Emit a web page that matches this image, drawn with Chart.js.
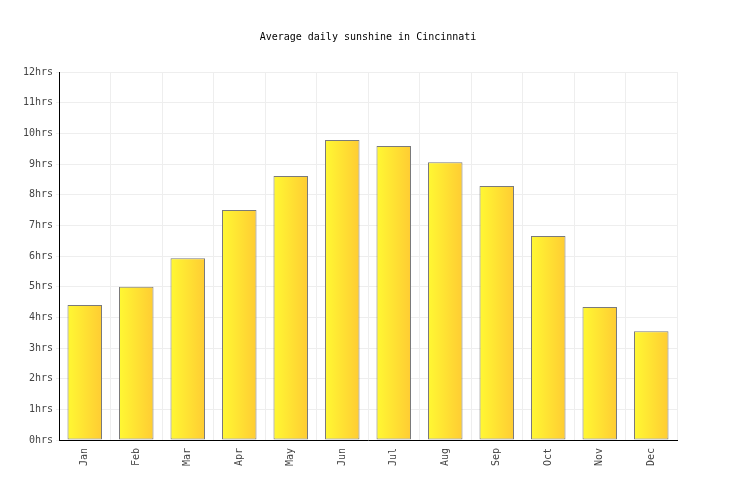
<!DOCTYPE html>
<html>
<head>
<meta charset="utf-8">
<script src="https://cdn.jsdelivr.net/npm/chart.js@4"></script>
<style>
  html, body { margin: 0; padding: 0; background: #fff; }
  #wrap { width: 736px; height: 500px; }
</style>
</head>
<body>
<div id="wrap"><canvas id="barChart"></canvas></div>
<script>
const months = ["Jan", "Feb", "Mar", "Apr", "May", "Jun", "Jul", "Aug", "Sep", "Oct", "Nov", "Dec"];
const sunshine = [4.4, 5.0, 5.93, 7.5, 8.61, 9.78, 9.59, 9.06, 8.28, 6.65, 4.34, 3.55]; // horas por día
const yTicks = [0, 1, 2, 3, 4, 5, 6, 7, 8, 9, 10, 11, 12];

const font = { family: "'DejaVu Sans Mono', monospace", size: 10 };
const BAR_PCT = 0.67;

// degradado horizontal de cada barra
function barGradient(context) {
  const chart = context.chart;
  const xs = chart.scales && chart.scales.x;
  if (!chart.chartArea || !xs || context.dataIndex === undefined) return "#ffe033";
  const cx = xs.getPixelForValue(context.dataIndex);
  const half = (xs.width / months.length) * BAR_PCT / 2;
  if (!Number.isFinite(cx) || !Number.isFinite(half)) return "#ffe033";
  const g = chart.ctx.createLinearGradient(cx - half, 0, cx + half, 0);
  g.addColorStop(0, "#fff833");
  g.addColorStop(1, "#ffcc33");
  return g;
}

const ctx = document.getElementById('barChart').getContext('2d');

new Chart(ctx, {
  type: 'bar',
  data: {
    labels: months,
    datasets: [{
      label: "Sunshine",
      data: sunshine,
      backgroundColor: barGradient,
      borderColor: "#7a7a7a",
      borderWidth: 1,
      borderSkipped: false,
      categoryPercentage: 1,
      barPercentage: BAR_PCT
    }]
  },
  options: {
    responsive: true,
    maintainAspectRatio: false,
    animation: false,
    layout: { padding: 0 },
    plugins: {
      legend: { display: false },
      tooltip: { enabled: false },
      title: {
        display: true,
        text: "Average daily sunshine in Cincinnati",
        color: "#000",
        font: { family: font.family, size: 10, weight: "normal" },
        padding: { top: 31, bottom: 29 }
      }
    },
    scales: {
      x: {
        grid: { color: "#eeeeee", offset: true, drawTicks: false },
        border: { color: "#000", width: 1 },
        ticks: {
          color: "#444",
          font: font,
          minRotation: 90,
          maxRotation: 90,
          padding: 8
        },
        afterFit: s => { s.height = 60; }
      },
      y: {
        min: 0,
        max: 12,
        grid: { color: "#eeeeee", drawTicks: true, tickLength: 3, tickColor: "#eeeeee" },
        border: { color: "#000", width: 1 },
        afterBuildTicks: s => { s.ticks = yTicks.map(v => ({ value: v })); },
        ticks: {
          color: "#444",
          font: font,
          padding: 3,
          callback: v => v + "hrs"
        },
        afterFit: s => { s.width = 59; }
      },
      // eje vacío a la derecha, solo reserva margen
      yRight: {
        position: "right",
        min: 0,
        max: 12,
        grid: { display: false },
        border: { display: false },
        ticks: { display: false },
        afterFit: s => { s.width = 59; }
      }
    }
  }
});
</script>
</body>
</html>
